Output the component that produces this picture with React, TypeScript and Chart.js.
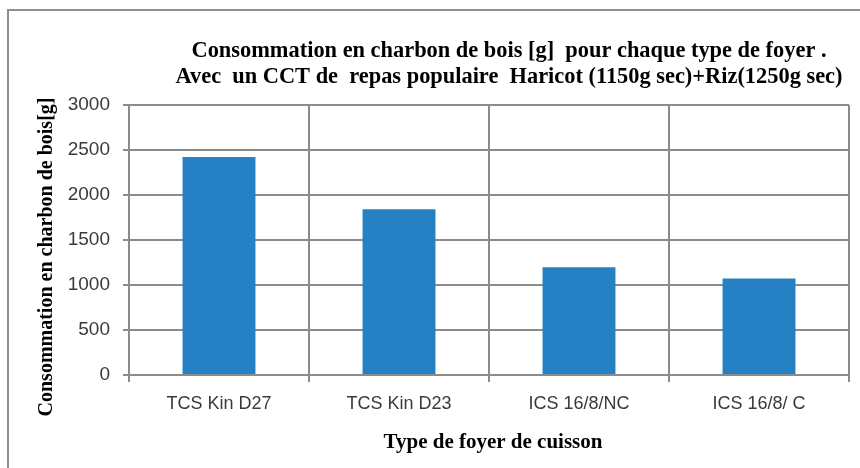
import React, { useEffect, useRef } from "react";
import { Chart, registerables } from "chart.js";

Chart.register(...registerables);

const categories: string[] = ["TCS Kin D27", "TCS Kin D23", "ICS 16/8/NC", "ICS 16/8/ C"];
const consumption: number[] = [2423, 1842, 1198, 1072];
const titleLines: string[] = [
  "Consommation en charbon de bois [g]  pour chaque type de foyer .",
  "Avec  un CCT de  repas populaire  Haricot (1150g sec)+Riz(1250g sec)",
];
const yAxisTitle = "Consommation en charbon de bois[g]";
const xAxisTitle = "Type de foyer de cuisson";
const yMin = 0;
const yMax = 3000;
const yStep = 500;

const GRID = "#8b8b8b";
const BAR = "#2581c4";
const SERIF = "'Liberation Serif', 'Times New Roman', serif";
const SANS = "'Liberation Sans', Arial, sans-serif";

const textPlugin = {
  id: "customTexts",
  afterDraw(chart: any) {
    const ctx = chart.ctx as CanvasRenderingContext2D;
    ctx.save();
    ctx.fillStyle = "#000000";
    ctx.textAlign = "center";
    ctx.textBaseline = "alphabetic";
    ctx.font = `bold 22.4px ${SERIF}`;
    ctx.fillText(titleLines[0], 509, 57);
    ctx.fillText(titleLines[1], 509, 83);

    ctx.font = `bold 21px ${SERIF}`;
    ctx.fillText(xAxisTitle, 493, 448);

    ctx.font = `bold 20px ${SERIF}`;
    ctx.translate(52, 257);
    ctx.rotate(-Math.PI / 2);
    ctx.fillText(yAxisTitle, 0, 0);
    ctx.restore();
  },
};

export default function App() {
  const ref = useRef<HTMLCanvasElement | null>(null);

  useEffect(() => {
    if (!ref.current) return;
    const chart = new Chart(ref.current, {
      type: "bar",
      data: {
        labels: categories,
        datasets: [
          {
            data: consumption,
            backgroundColor: BAR,
            borderWidth: 0,
            barPercentage: 0.405,
            categoryPercentage: 1,
          },
        ],
      },
      options: {
        responsive: false,
        animation: false,
        layout: { padding: { top: 105, right: 11, bottom: 0, left: 0 } },
        plugins: {
          legend: { display: false },
          title: { display: false },
          tooltip: { enabled: false },
        },
        scales: {
          x: {
            grid: {
              color: GRID,
              lineWidth: 2,
              tickLength: 7,
              offset: true,
            },
            border: { color: GRID, width: 2 },
            ticks: {
              color: "#3a3a3a",
              font: { family: SANS, size: 18 },
              padding: 11,
              maxRotation: 0,
            },
            afterFit(scale: any) {
              scale.height = 93;
            },
          },
          y: {
            min: yMin,
            max: yMax,
            grid: { color: GRID, lineWidth: 2, tickLength: 6 },
            border: { color: GRID, width: 2 },
            ticks: {
              stepSize: yStep,
              color: "#3a3a3a",
              font: { family: SANS, size: 19 },
              padding: 13,
              callback: (v: any) => String(v),
            },
            afterFit(scale: any) {
              scale.width = 129;
            },
          },
        },
      },
      plugins: [textPlugin],
    });
    return () => chart.destroy();
  }, []);

  return (
    <div
      style={{
        position: "fixed",
        left: 0,
        top: 0,
        width: 860,
        height: 468,
        overflow: "hidden",
        background: "#ffffff",
      }}
    >
      <div
        style={{
          position: "absolute",
          left: 7,
          top: 9,
          width: 920,
          height: 520,
          border: "2px solid #8e8e8e",
          boxSizing: "border-box",
        }}
      />
      <canvas
        ref={ref}
        width={860}
        height={468}
        style={{ position: "absolute", left: 0, top: 0, display: "block" }}
      />
    </div>
  );
}
